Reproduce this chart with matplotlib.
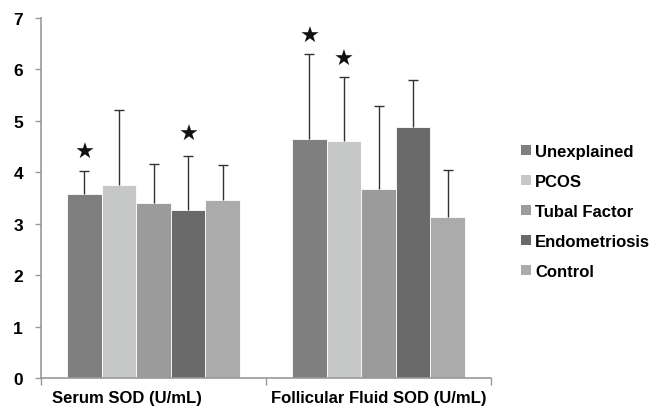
import matplotlib
matplotlib.use("Agg")
import matplotlib.pyplot as plt
import matplotlib.transforms as mtransforms
import numpy as np

plt.rcParams['font.family'] = ['Liberation Sans', 'DejaVu Sans']
plt.rcParams['font.weight'] = 'bold'

categories = ["Serum SOD (U/mL)", "Follicular Fluid SOD (U/mL)"]
groups = ["Unexplained", "PCOS", "Tubal Factor", "Endometriosis", "Control"]
colors = ["#7f7f7f", "#c6c8c7", "#9a9b9a", "#6a6a6a", "#aaabaa"]
means = {
    "Unexplained":   [3.58, 4.65],
    "PCOS":          [3.75, 4.60],
    "Tubal Factor":  [3.40, 3.68],
    "Endometriosis": [3.27, 4.88],
    "Control":       [3.46, 3.13],
}
upper = {
    "Unexplained":   [4.03, 6.30],
    "PCOS":          [5.22, 5.85],
    "Tubal Factor":  [4.17, 5.28],
    "Endometriosis": [4.31, 5.79],
    "Control":       [4.15, 4.05],
}
# significance stars: (group, category index, y)
stars = [("Unexplained", 0, 4.39), ("Endometriosis", 0, 4.75),
         ("Unexplained", 1, 6.66), ("PCOS", 1, 6.20)]

fig = plt.figure(figsize=(6.64, 4.10), dpi=100)
ax = fig.add_axes([41/664, 1-379/410, 450/664, 360/410])

x = np.arange(len(categories))
w = 0.154
for i, g in enumerate(groups):
    pos = x + (i - 2) * w
    m = np.array(means[g])
    err = np.array(upper[g]) - m
    ax.bar(pos, m, width=w, color=colors[i], edgecolor='white', linewidth=0.6,
           label=g, zorder=2)
    eb = ax.errorbar(pos, m, yerr=[np.zeros_like(err), err], fmt='none',
                     ecolor='#333333', elinewidth=1, capsize=3.5, capthick=1, zorder=3)
    eb[1][0].set_visible(False)  # hide lower caps

for g, ci, yv in stars:
    i = groups.index(g)
    ax.text(x[ci] + (i - 2) * w, yv, "★", ha='center', va='center',
            fontsize=16, color='#111111', family=['DejaVu Sans'])

ax.set_xlim(-0.5, 1.5)
ax.set_ylim(0, 7)
ax.set_yticks(range(0, 8))
ax.set_yticklabels([str(v) for v in range(0, 8)], fontsize=12.5, fontweight='bold')
ax.set_xticks([-0.5, 0.5, 1.5])
ax.set_xticklabels([])
ax.set_xticks(x, minor=True)
ax.set_xticklabels(categories, minor=True, fontsize=12, fontweight='bold')
ax.tick_params(axis='x', which='minor', length=0, pad=9)
ax.tick_params(axis='x', which='major', length=5, color='#999999', width=1)
ax.tick_params(axis='y', length=4, color='#999999', width=1, pad=9)
# first category label sits left of its group in the original
lbl0 = ax.get_xticklabels(minor=True)[0]
lbl0.set_transform(lbl0.get_transform() +
                   mtransforms.ScaledTranslation(-27/100, 0, fig.dpi_scale_trans))

for s in ['top', 'right']:
    ax.spines[s].set_visible(False)
for s in ['left', 'bottom']:
    ax.spines[s].set_color('#999999')
    ax.spines[s].set_linewidth(1.2)

leg = fig.legend(loc='center left', bbox_to_anchor=(0.762, 0.482), frameon=False,
                 prop={'size': 12, 'weight': 'bold'}, handlelength=0.6,
                 handleheight=0.6, handletextpad=0.25, labelspacing=0.9)
for p in leg.get_patches():
    p.set_edgecolor('none')

fig.savefig("out.png", dpi=100)
